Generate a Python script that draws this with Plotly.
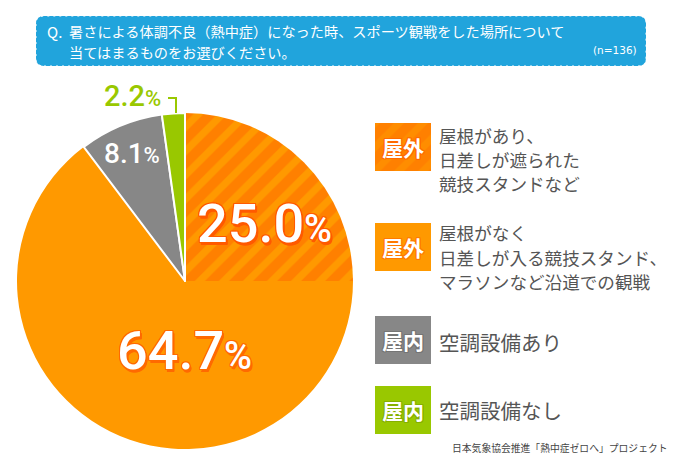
import plotly.graph_objects as go

W = 680
H = 463

# data
slice_names = ['屋外 屋根あり', '屋外 屋根なし', '屋内 空調設備あり', '屋内 空調設備なし']
slice_values = [25.0, 64.7, 8.1, 2.2]
badge_labels = ['屋外', '屋外', '屋内', '屋内']
legend_texts = [['屋根があり、', '日差しが遮られた', '競技スタンドなど'],
                ['屋根がなく', '日差しが入る競技スタンド、', 'マラソンなど沿道での観戦'],
                ['空調設備あり'],
                ['空調設備なし']]
question = ['暑さによる体調不良（熱中症）になった時、スポーツ観戦をした場所について',
            '当てはまるものをお選びください。']
sample = '(n=136)'
source = '日本気象協会推進「熱中症ゼロへ」プロジェクト'

ORANGE_DK = '#ff8000'
ORANGE = '#ff9900'
GREY = '#878787'
GREEN = '#99c800'
BLUE = '#21a4dc'
TEXT = '#555555'
JP = 'Noto Sans CJK JP'


def px_x(v):
    return v / W


def px_y(v):
    return 1 - v / H


fig = go.Figure()

fig.add_trace(go.Pie(labels=slice_names, values=slice_values, sort=False,
                     direction='clockwise', rotation=0, textinfo='none',
                     showlegend=False,
                     domain={'x': [px_x(17), px_x(353)], 'y': [px_y(449), px_y(113)]},
                     marker={'colors': [ORANGE_DK, ORANGE, GREY, GREEN],
                             'line': {'color': 'white', 'width': [0, 0, 2, 2]},
                             'pattern': {'shape': ['/', '', '', ''],
                                         'bgcolor': ORANGE_DK, 'fgcolor': ORANGE,
                                         'size': 17, 'solidity': 0.42}}))

# striped swatch is a one-bar trace so it can use the same pattern
fig.add_trace(go.Bar(x=[0], y=[1], width=1, xaxis='x', yaxis='y', showlegend=False,
                     marker={'color': ORANGE_DK, 'line': {'width': 0},
                             'pattern': {'shape': '/', 'bgcolor': ORANGE_DK, 'fgcolor': ORANGE,
                                         'size': 17, 'solidity': 0.42}}))

shapes = []
annotations = []


def rect(x0, y0, x1, y1, color):
    shapes.append(dict(type='rect', xref='paper', yref='paper', layer='below',
                       x0=px_x(x0), x1=px_x(x1), y0=px_y(y1), y1=px_y(y0),
                       fillcolor=color, line={'width': 0}))


def label(x, y, text, size, color, anchor='left', family=JP, shadow=None, weight=None):
    font = dict(family=family, size=size, color=color)
    if shadow:
        font['shadow'] = shadow
    if weight:
        font['weight'] = weight
    annotations.append(dict(xref='paper', yref='paper', x=px_x(x), y=px_y(y), text=text,
                            showarrow=False, xanchor=anchor, yanchor='middle', align='left',
                            font=font, borderpad=0))


def outline(c, w, drop=True):
    pts = [(-w, 0), (w, 0), (0, -w), (0, w), (w, w), (-w, w), (w, -w), (-w, -w)]
    if drop:
        pts += [(w + 1, w + 1), (w, w + 2), (w + 1, w + 2)]
    return ','.join(f'{dx}px {dy}px 0 {c}' for dx, dy in pts)


# question banner, the dotted white edge gives the scalloped border
r = 8
bx0, by0, bx1, by1 = px_x(36), px_y(66), px_x(646), px_y(16)
rx, ry = r / W, r / H
shapes.append(dict(type='path', xref='paper', yref='paper', layer='below',
                   path=f'M {bx0 + rx} {by0} L {bx1 - rx} {by0} Q {bx1} {by0} {bx1} {by0 + ry} '
                        f'L {bx1} {by1 - ry} Q {bx1} {by1} {bx1 - rx} {by1} '
                        f'L {bx0 + rx} {by1} Q {bx0} {by1} {bx0} {by1 - ry} '
                        f'L {bx0} {by0 + ry} Q {bx0} {by0} {bx0 + rx} {by0} Z',
                   fillcolor=BLUE, line={'color': 'white', 'width': 1, 'dash': '2px,4px'}))
label(46, 31, 'Q.', 15, 'white')
for i, line in enumerate(question):
    label(68, 31 + i * 21, line, 14.2, 'white')
label(638, 50, sample, 10.5, 'white', anchor='right', family='DejaVu Sans')

# leader from the small slice to its label
shapes.append(dict(type='path', xref='paper', yref='paper',
                   path=f'M {px_x(168)} {px_y(98)} L {px_x(176)} {px_y(98)} L {px_x(176)} {px_y(113)}',
                   line={'color': GREEN, 'width': 2}))

# legend
badge_tops = [123, 223, 316, 386]
badge_colors = [None, ORANGE, GREY, GREEN]
badge_edges = ['#ff6a00', '#ff7a00', '#757575', '#86b000']
text_ys = [135, 233, 342, 410]
text_sizes = [17.6, 17.6, 20.5, 20.5]
for top, name, color, edge, lines, ty, ts in zip(badge_tops, badge_labels, badge_colors, badge_edges,
                                                 legend_texts, text_ys, text_sizes):
    if color:
        rect(375, top, 431, top + 48, color)
    label(403, top + 24, name, 21, 'white', anchor='center', weight='bold',
          shadow=outline(edge, 1, drop=False))
    for i, line in enumerate(lines):
        label(438, ty + i * 24, line, ts, TEXT)

label(669, 448, source, 9.8, '#444444', anchor='right')

# value labels, fed from the values
num_font = 'Roboto'
label_specs = [(264, 223, 54, 38, 'white', '#ff5a00'),
               (185, 350, 54, 38, 'white', '#ff6a00'),
               (132, 153, 28, 22, 'white', None),
               (132, 96, 29, 22, GREEN, None)]
for v, (x, y, big, small, col, edge) in zip(slice_values, label_specs):
    txt = f'{v:.1f}<span style="font-size:{small}px">%</span>'
    label(x, y, txt, big, col, anchor='center', family=num_font, weight=500,
          shadow=outline(edge, 1) if edge else None)

fig.update_layout(width=W, height=H, margin=dict(l=0, r=0, t=0, b=0),
                  paper_bgcolor='white', plot_bgcolor='rgba(0,0,0,0)', showlegend=False,
                  bargap=0, shapes=shapes, annotations=annotations,
                  xaxis=dict(domain=[px_x(375), px_x(431)], range=[-0.5, 0.5], visible=False),
                  yaxis=dict(domain=[px_y(171), px_y(123)], range=[0, 1], visible=False))

fig.write_html("out.html", config={'displayModeBar': False},
               post_script="document.body.style.margin='0';")
